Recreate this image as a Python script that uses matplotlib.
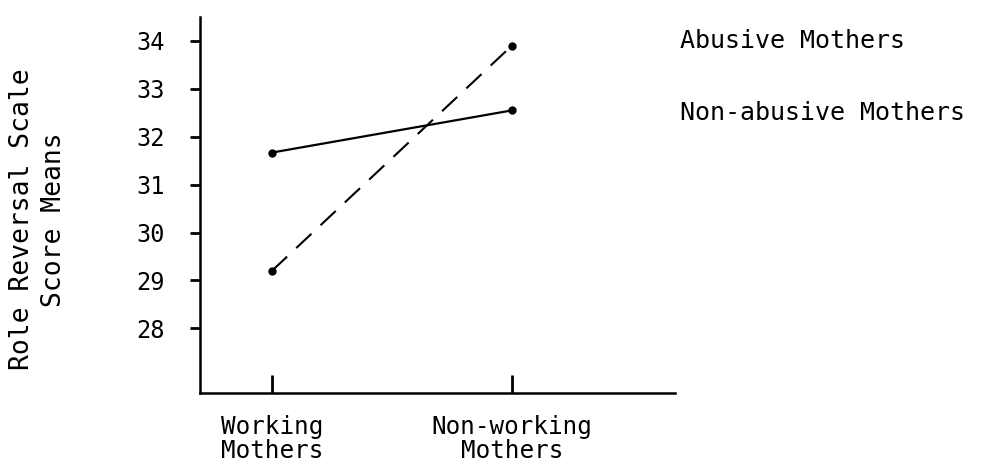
import matplotlib.pyplot as plt

# data
groups = ['Working\nMothers', 'Non-working\nMothers']
abusive = [29.2, 33.9]
non_abusive = [31.67, 32.55]
yticks = [28, 29, 30, 31, 32, 33, 34]

plt.rcParams['font.family'] = ['DejaVu Sans Mono']

fig = plt.figure(figsize=(9.88, 4.67), dpi=100)
ax = fig.add_axes([0.2024, 0.1585, 0.4806, 0.805])

x = range(len(groups))
ax.plot(x, abusive, color='black', lw=1.5, dashes=(10, 6), marker='o', ms=5)
ax.plot(x, non_abusive, color='black', lw=1.6, marker='o', ms=5)

ax.set_xlim(-0.30, 1.68)
ax.set_ylim(26.65, 34.5)

ax.spines['top'].set_visible(False)
ax.spines['right'].set_visible(False)
ax.spines['left'].set_linewidth(1.8)
ax.spines['bottom'].set_linewidth(1.8)

ax.set_yticks(yticks)
ax.set_yticklabels([str(t) for t in yticks], fontsize=17)
ax.tick_params(axis='y', direction='out', length=7, width=2, pad=18)

ax.set_xticks(list(x))
ax.set_xticklabels(groups, fontsize=17.5, linespacing=1.0)
ax.tick_params(axis='x', direction='in', length=13, width=2, pad=16)

fig.text(0.038, 0.53, 'Role Reversal Scale\nScore Means', rotation=90,
         ha='center', va='center', fontsize=19, linespacing=1.3,
         multialignment='center')

fig.text(0.688, 0.912, 'Abusive Mothers', ha='left', va='center', fontsize=18)
fig.text(0.688, 0.757, 'Non-abusive Mothers', ha='left', va='center', fontsize=18)

fig.savefig('out.png', dpi=100)
